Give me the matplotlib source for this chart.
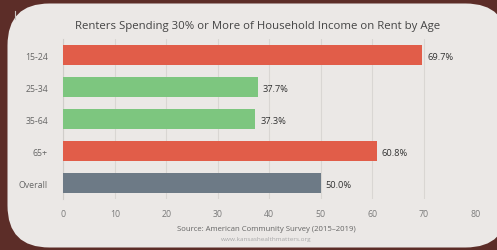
import matplotlib
matplotlib.use("Agg")
import matplotlib.pyplot as plt
from matplotlib.patches import FancyBboxPatch

categories = ["15-24", "25-34", "35-64", "65+", "Overall"]
values = [69.7, 37.7, 37.3, 60.8, 50.0]
bar_colors = ["#e15d49", "#7dc67f", "#7dc67f", "#e15d49", "#6d7a86"]
xticks = [0, 10, 20, 30, 40, 50, 60, 70, 80]
title = "Renters Spending 30% or More of Household Income on Rent by Age"
source = "Source: American Community Survey (2015\u20132019)"
url = "www.kansashealthmatters.org"

plt.rcParams['font.family'] = ['Open Sans', 'DejaVu Sans']

W, H = 497, 251
fig = plt.figure(figsize=(W / 100, H / 100), dpi=100)
fig.patch.set_facecolor("#5c2d28")

bg = fig.add_axes([0, 0, 1, 1])
bg.set_xlim(0, W)
bg.set_ylim(H, 0)
bg.axis("off")
panel = FancyBboxPatch((7.5, 4.5), 500, 244, boxstyle="round,pad=0,rounding_size=42",
                       facecolor="#ebe8e6", edgecolor="none")
bg.add_patch(panel)
bg.plot([15, 15], [12, 20], color="#c9c5c2", lw=0.8)

left, right, top, bottom = 63.3, 475.5, 40, 200
ax = fig.add_axes([left / W, 1 - bottom / H, (right - left) / W, (bottom - top) / H])
ax.set_facecolor("none")
y = list(range(len(categories)))
ax.barh(y, values, height=0.6, color=bar_colors, zorder=3)
ax.set_ylim(len(categories) - 0.5, -0.5)
ax.set_xlim(0, 80)
ax.set_xticks(xticks)
ax.set_xticklabels([str(t) for t in xticks])
ax.set_yticks(y)
ax.set_yticklabels(categories)
ax.grid(axis="x", color="#d9d6d3", lw=0.8, zorder=0)
for s in ["top", "right", "bottom"]:
    ax.spines[s].set_visible(False)
ax.spines["left"].set_color("#d0cdca")
ax.spines["left"].set_linewidth(0.8)
ax.tick_params(axis="both", length=0, labelsize=6.3, labelcolor="#7a7a7a")
ax.tick_params(axis="y", pad=11, labelcolor="#666666")
ax.tick_params(axis="x", pad=7)
for yi, v in zip(y, values):
    ax.text(v + 0.9, yi + 0.05, f"{v:.1f}%", va="center", ha="left",
            fontsize=6.7, color="#333333", zorder=4)

fig.text(258 / W, 1 - 27 / H, title, ha="center", va="center", fontsize=8.2, color="#444444")
fig.text(266 / W, 1 - 230 / H, source, ha="center", va="center", fontsize=5.6, color="#666666")
fig.text(266 / W, 1 - 240 / H, url, ha="center", va="center", fontsize=4.6, color="#a8a8a8")

fig.savefig("out.png", dpi=100, facecolor=fig.get_facecolor())
